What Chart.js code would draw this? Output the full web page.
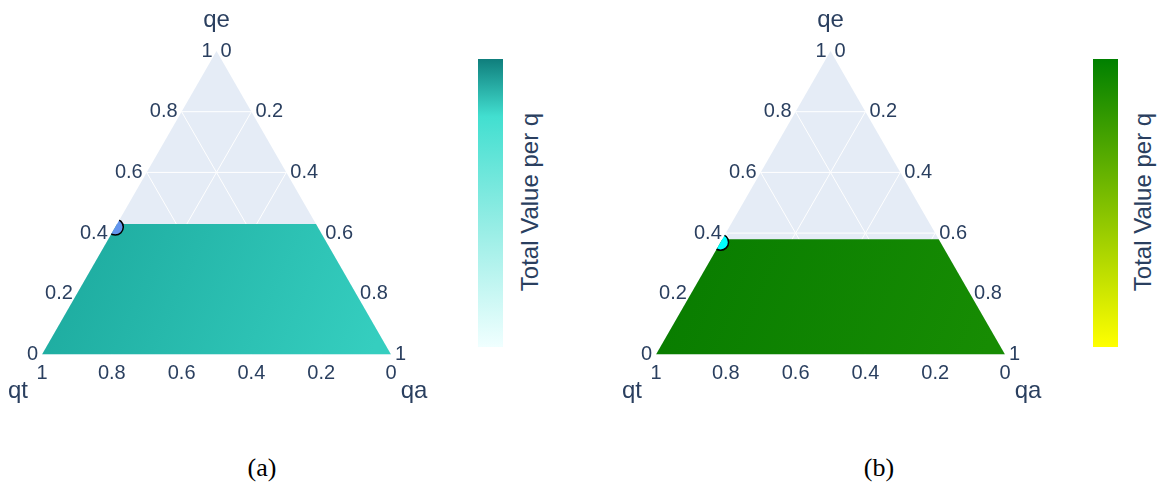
<!DOCTYPE html>
<html>
<head>
<meta charset="utf-8">
<script src="https://cdn.jsdelivr.net/npm/chart.js@4/dist/chart.umd.min.js"></script>
<style>
  body { margin: 0; background: #fff; width: 1162px; height: 487px; overflow: hidden; position: relative; }
  .panel { position: absolute; top: 0; width: 460px; height: 420px; }
  .cbar { position: absolute; top: 59px; width: 25px; height: 288px; }
  .cbtitle { position: absolute; top: 202px; font: 24px "Liberation Sans", Arial, sans-serif; color: #2a3f5f;
             white-space: nowrap; transform: translate(-50%, -50%) rotate(-90deg); }
  .caption { position: absolute; top: 468px; font: 26px "Liberation Serif", "DejaVu Serif", serif; color: #000;
             transform: translate(-50%, -50%); }
</style>
</head>
<body>
<div class="panel" style="left:0px"><canvas id="ternA"></canvas></div>
<div class="panel" style="left:614px"><canvas id="ternB"></canvas></div>

<div class="cbar" style="left:478px; background: linear-gradient(to bottom, #0f7e7c 0%, #42dfd0 20%, #9aeee6 60%, #f0ffff 100%)"></div>
<div class="cbtitle" style="left:530px">Total Value per q</div>
<div class="cbar" style="left:1093px; background: linear-gradient(to bottom, #008000 0%, #ffff00 100%)"></div>
<div class="cbtitle" style="left:1143px">Total Value per q</div>

<div class="caption" style="left:262px">(a)</div>
<div class="caption" style="left:879px">(b)</div>

<script>
// ternary axes: qe = top corner, qt = bottom-left, qa = bottom-right
const axisTitles = ['qe', 'qt', 'qa'];
const tickValues = [0, 0.2, 0.4, 0.6, 0.8, 1];
const tickLabels = ['0', '0.2', '0.4', '0.6', '0.8', '1'];
const gridValues = [0.2, 0.4, 0.6, 0.8];

// filled region: qe from 0 up to fillTopQe, panels (a) and (b)
const fillTopQe = [0.43, 0.38];
// single marker per panel
const markerQe = [0.42, 0.37];
const markerQt = [0.58, 0.63];
const markerQa = [0, 0];
const markerColors = ['#6495ed', '#00ffff'];
const fillColors = [['#1eaca0', '#35cebf'], ['#097d00', '#178c03']];

const SQ = Math.sqrt(3) / 2;
const textColor = '#2a3f5f';

function tern(qe, qt, qa) {
    const s = qe + qt + qa;
    qe /= s; qa /= s;
    return { x: qa + qe / 2, y: qe * SQ };
}

function gridDatasets() {
    let sets = [];
    gridValues.forEach(v => {
        // constant qe, constant qt, constant qa
        let lines = [
            [tern(v, 1 - v, 0), tern(v, 0, 1 - v)],
            [tern(1 - v, v, 0), tern(0, v, 1 - v)],
            [tern(1 - v, 0, v), tern(0, 1 - v, v)]
        ];
        lines.forEach(l => sets.push({
            data: l, showLine: true, borderColor: '#ffffff', borderWidth: 1,
            pointRadius: 0, order: 3, clip: false
        }));
    });
    return sets;
}

const triangleClip = {
    id: 'triangleClip',
    beforeDatasetDraw(chart, args) {
        if (!chart.data.datasets[args.index].clipTriangle) return;
        const x = chart.scales.x, y = chart.scales.y, c = chart.ctx;
        c.save();
        c.beginPath();
        c.moveTo(x.getPixelForValue(0), y.getPixelForValue(0));
        c.lineTo(x.getPixelForValue(1), y.getPixelForValue(0));
        c.lineTo(x.getPixelForValue(0.5), y.getPixelForValue(SQ));
        c.closePath();
        c.clip();
    },
    afterDatasetDraw(chart, args) {
        if (!chart.data.datasets[args.index].clipTriangle) return;
        chart.ctx.restore();
    }
};

const ternLabels = {
    id: 'ternLabels',
    afterDraw(chart) {
        const x = chart.scales.x, y = chart.scales.y, c = chart.ctx;
        const px = p => [x.getPixelForValue(p.x), y.getPixelForValue(p.y)];
        c.save();
        c.fillStyle = textColor;
        c.font = '20px "Liberation Sans", Arial, sans-serif';
        c.textBaseline = 'middle';
        tickValues.forEach((v, i) => {
            // qe ticks on left edge
            let [lx, ly] = px(tern(v, 1 - v, 0));
            c.textAlign = 'right';
            c.fillText(tickLabels[i], lx - 4, ly);
            // qa ticks on right edge
            let [rx, ry] = px(tern(1 - v, 0, v));
            c.textAlign = 'left';
            c.fillText(tickLabels[i], rx + 4, ry);
            // qt ticks on bottom edge
            let [bx, by] = px(tern(0, v, 1 - v));
            c.textAlign = 'center';
            c.fillText(tickLabels[i], bx, by + 19);
        });
        c.font = '24px "Liberation Sans", Arial, sans-serif';
        c.textBaseline = 'alphabetic';
        c.textAlign = 'center';
        let [ax, ay] = px(tern(1, 0, 0));
        c.fillText(axisTitles[0], ax, ay - 24);
        let [tx, ty] = px(tern(0, 1, 0));
        c.fillText(axisTitles[1], tx - 24, ty + 43);
        let [qx, qy] = px(tern(0, 0, 1));
        c.fillText(axisTitles[2], qx + 23, qy + 43);
        c.restore();
    }
};

function makeChart(id, k) {
    const top = fillTopQe[k];
    const region = [tern(0, 1, 0), tern(0, 0, 1), tern(top, 0, 1 - top), tern(top, 1 - top, 0)];
    const datasets = [
        {
            data: [tern(1, 0, 0), tern(0, 1, 0), tern(0, 0, 1)],
            showLine: true, fill: 'shape', backgroundColor: '#e5ecf6',
            borderWidth: 0, borderColor: 'rgba(0,0,0,0)', pointRadius: 0, order: 4, clip: false
        },
        ...gridDatasets(),
        {
            data: region, showLine: true, fill: 'shape', borderWidth: 0,
            borderColor: 'rgba(0,0,0,0)', pointRadius: 0, order: 2, clip: false,
            backgroundColor: function(ctx) {
                const chart = ctx.chart, a = chart.chartArea;
                if (!a || !chart.scales.y) return fillColors[k][0];
                const ty = chart.scales.y.getPixelForValue(top * SQ);
                const g = chart.ctx.createLinearGradient(a.left + 40, ty, a.right - 20, a.bottom);
                g.addColorStop(0, fillColors[k][0]);
                g.addColorStop(1, fillColors[k][1]);
                return g;
            }
        },
        {
            data: [tern(markerQe[k], markerQt[k], markerQa[k])],
            pointRadius: 8, pointBackgroundColor: markerColors[k], pointBorderColor: '#000000',
            pointBorderWidth: 1.5, order: 1, clip: false, clipTriangle: true
        }
    ];
    return new Chart(document.getElementById(id), {
        type: 'scatter',
        data: { datasets: datasets },
        options: {
            responsive: false,
            animation: false,
            events: [],
            layout: { padding: { left: 42, right: 69, top: 51, bottom: 65.5 } },
            scales: {
                x: { type: 'linear', min: 0, max: 1, display: false },
                y: { type: 'linear', min: 0, max: SQ, display: false }
            },
            plugins: { legend: { display: false }, tooltip: { enabled: false } }
        },
        plugins: [triangleClip, ternLabels]
    });
}

document.getElementById('ternA').width = 460;
document.getElementById('ternA').height = 420;
document.getElementById('ternB').width = 460;
document.getElementById('ternB').height = 420;
makeChart('ternA', 0);
makeChart('ternB', 1);
</script>
</body>
</html>
